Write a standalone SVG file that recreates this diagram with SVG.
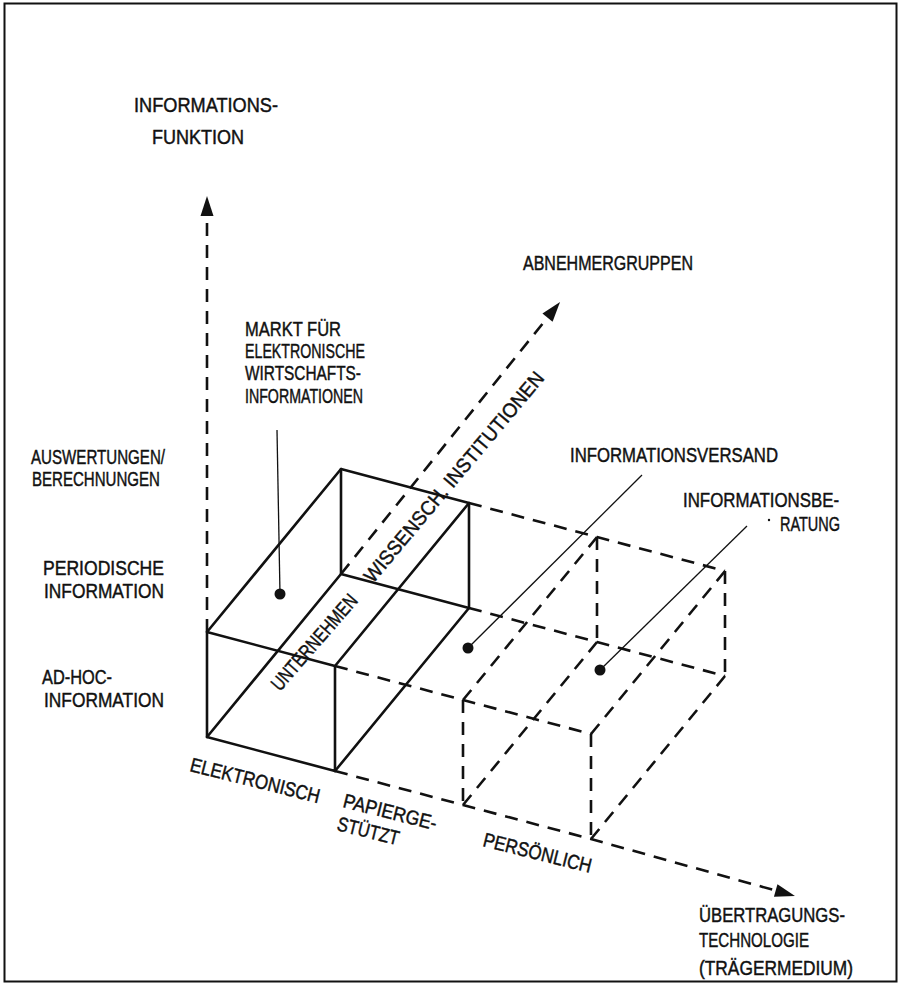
<svg xmlns="http://www.w3.org/2000/svg" width="901" height="984" viewBox="0 0 901 984">
<defs>
<style>
.solid{stroke:#111;stroke-width:2.6;fill:none;stroke-linejoin:round;stroke-linecap:round}
.dash{stroke:#111;stroke-width:2.6;fill:none;stroke-dasharray:13 9}
.leader{stroke:#111;stroke-width:1.3;fill:none}
.dot{fill:#111}
text{font-family:"Liberation Sans",Arial,sans-serif;font-size:20px;fill:#111;stroke:#111;stroke-width:0.45}
</style>
<marker id="arr" viewBox="-1 -8 22 16" refX="0" refY="0" markerWidth="22" markerHeight="16" markerUnits="userSpaceOnUse" orient="auto">
<path d="M0,-6.5 L20,0 L0,6.5 z" fill="#111"/>
</marker>
</defs>
<rect width="901" height="984" fill="#fff"/>
<rect x="4.5" y="3.5" width="892" height="978" fill="none" stroke="#111" stroke-width="2"/>

<g id="connectors">
<path id="axis-funktion" class="dash" d="M207,632 L207,216" marker-end="url(#arr)"/>
<path id="axis-abnehmer" class="dash" d="M341,574 L547.5,317.6" marker-end="url(#arr)"/>
<path id="axis-technologie" class="dash" d="M335,771 L463,805 L591,839 L775.7,890.6" marker-end="url(#arr)"/>
<line class="leader" x1="277" y1="430" x2="280" y2="594"/>
<line class="leader" x1="468" y1="648" x2="642" y2="475"/>
<line class="leader" x1="600" y1="670" x2="747" y2="526"/>
</g>

<g id="box-markt">
<path class="solid" d="M207,737 L207,632 L335,666 L335,771 Z"/>
<path class="solid" d="M207,632 L341,469 L469,503 L335,666"/>
<path class="solid" d="M469,503 L469,608 L335,771"/>
<path class="solid" d="M341,469 L341,574 L469,608"/>
<path class="solid" d="M341,574 L207,737"/>
<circle class="dot" cx="280" cy="594" r="5.5"/>
</g>

<g id="box-versand">
<path class="dash" d="M335,666 L463,700 L591,734"/>
<path class="dash" d="M469,503 L597,537 L725,571"/>
<path class="dash" d="M469,608 L597,642 L725,676"/>
<path class="dash" d="M463,700 L463,805"/>
<path class="dash" d="M591,734 L591,839"/>
<path class="dash" d="M597,537 L597,642"/>
<path class="dash" d="M725,571 L725,676"/>
<path class="dash" d="M463,700 L597,537"/>
<path class="dash" d="M591,734 L725,571"/>
<path class="dash" d="M463,805 L597,642"/>
<path class="dash" d="M591,839 L725,676"/>
<circle class="dot" cx="468" cy="648" r="5.5"/>
<circle class="dot" cx="600" cy="670" r="5.5"/>
</g>

<g id="label-funktion">
<text x="134" y="112" textLength="144" lengthAdjust="spacingAndGlyphs">INFORMATIONS-</text>
<text x="152" y="144" textLength="92" lengthAdjust="spacingAndGlyphs">FUNKTION</text>
</g>
<g id="label-abnehmer">
<text x="523" y="270" textLength="170" lengthAdjust="spacingAndGlyphs">ABNEHMERGRUPPEN</text>
</g>
<g id="label-markt">
<text x="245" y="336" textLength="96" lengthAdjust="spacingAndGlyphs">MARKT FÜR</text>
<text x="245" y="358" textLength="120" lengthAdjust="spacingAndGlyphs">ELEKTRONISCHE</text>
<text x="245" y="380" textLength="116" lengthAdjust="spacingAndGlyphs">WIRTSCHAFTS-</text>
<text x="245" y="403" textLength="118" lengthAdjust="spacingAndGlyphs">INFORMATIONEN</text>
</g>
<g id="label-levels">
<text x="31" y="464" textLength="134" lengthAdjust="spacingAndGlyphs">AUSWERTUNGEN/</text>
<text x="32" y="486" textLength="128" lengthAdjust="spacingAndGlyphs">BERECHNUNGEN</text>
<text x="43" y="575" textLength="121" lengthAdjust="spacingAndGlyphs">PERIODISCHE</text>
<text x="44" y="598" textLength="120" lengthAdjust="spacingAndGlyphs">INFORMATION</text>
<text x="42" y="684" textLength="70" lengthAdjust="spacingAndGlyphs">AD-HOC-</text>
<text x="44" y="707" textLength="120" lengthAdjust="spacingAndGlyphs">INFORMATION</text>
</g>
<g id="label-groups">
<text transform="translate(280,692) rotate(-49)" textLength="120" lengthAdjust="spacingAndGlyphs">UNTERNEHMEN</text>
<text transform="translate(373,584) rotate(-50)" textLength="268" lengthAdjust="spacingAndGlyphs">WISSENSCH. INSTITUTIONEN</text>
</g>
<g id="label-medium">
<text transform="translate(189,771) rotate(14)" textLength="133" lengthAdjust="spacingAndGlyphs">ELEKTRONISCH</text>
<text transform="translate(342,807) rotate(14)" textLength="96" lengthAdjust="spacingAndGlyphs">PAPIERGE-</text>
<text transform="translate(336,830) rotate(14)" textLength="63" lengthAdjust="spacingAndGlyphs">STÜTZT</text>
<text transform="translate(482,846) rotate(14)" textLength="111" lengthAdjust="spacingAndGlyphs">PERSÖNLICH</text>
</g>
<g id="label-versand">
<text x="570" y="462" textLength="208" lengthAdjust="spacingAndGlyphs">INFORMATIONSVERSAND</text>
</g>
<g id="label-beratung">
<text x="683" y="507" textLength="156" lengthAdjust="spacingAndGlyphs">INFORMATIONSBE-</text>
<circle class="dot" cx="769" cy="520" r="1.2"/>
<text x="780" y="531" textLength="60" lengthAdjust="spacingAndGlyphs">RATUNG</text>
</g>
<g id="label-technologie">
<text x="699" y="922" textLength="146" lengthAdjust="spacingAndGlyphs">ÜBERTRAGUNGS-</text>
<text x="699" y="947" textLength="110" lengthAdjust="spacingAndGlyphs">TECHNOLOGIE</text>
<text x="699" y="975" textLength="154" lengthAdjust="spacingAndGlyphs">(TRÄGERMEDIUM)</text>
</g>
</svg>
